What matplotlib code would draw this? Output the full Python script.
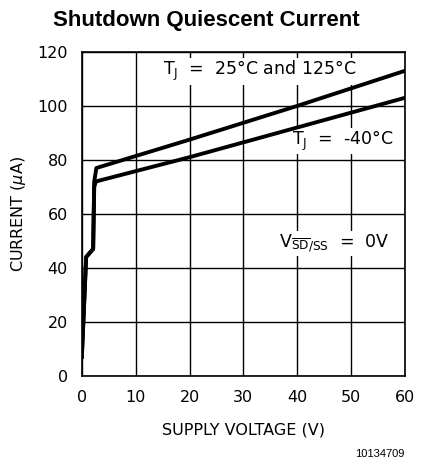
import matplotlib.pyplot as plt
import numpy as np

# supply voltage (V) and quiescent current (uA)
v_hot = [0.0, 0.8, 2.1, 2.3, 2.7, 20, 40, 60]
i_hot = [7, 44, 47, 72, 77, 87.5, 100, 113]
v_cold = [0.0, 0.8, 2.1, 2.3, 2.6, 20, 40, 60]
i_cold = [7, 44, 47, 70, 72, 81, 92, 103]

x_ticks = [0, 10, 20, 30, 40, 50, 60]
y_ticks = [0, 20, 40, 60, 80, 100, 120]

fig = plt.figure(figsize=(4.33, 4.68), dpi=100)
ax = fig.add_axes([0.189, 0.197, 0.746, 0.692])

ax.plot(v_hot, i_hot, color="black", lw=2.8, solid_joinstyle="round", zorder=4)
ax.plot(v_cold, i_cold, color="black", lw=2.8, solid_joinstyle="round", zorder=4)

ax.set_xlim(0, 60)
ax.set_ylim(0, 120)
ax.set_xticks(x_ticks)
ax.set_yticks(y_ticks)
ax.grid(True, color="black", lw=1.0)
ax.tick_params(length=0, labelsize=11.5, pad=10)
for s in ax.spines.values():
    s.set_linewidth(1.2)

ax.set_xlabel("SUPPLY VOLTAGE (V)", fontsize=11.5, labelpad=13)
ax.set_ylabel("CURRENT ($\\mu$A)", fontsize=11.5, labelpad=7)

# white boxes hide the grid behind the labels, curves stay on top
bg = dict(facecolor="white", edgecolor="none", pad=1)
ax.text(15, 112.8, "T$_\\mathregular{J}$  =  25°C and 125°C", fontsize=12.5, va="center", bbox=bg, zorder=3)
ax.text(39.0, 87, "T$_\\mathregular{J}$  =  -40°C", fontsize=12.5, va="center", bbox=bg, zorder=3)
ax.text(36.6, 49, "V$_{\\overline{\\mathregular{SD}}\\mathregular{/SS}}$  =  0V", fontsize=12.5, va="center", bbox=bg, zorder=3)

fig.text(0.476, 0.957, "Shutdown Quiescent Current", fontsize=16, fontweight="bold",
         family="Liberation Sans", ha="center", va="center")
fig.text(0.935, 0.03, "10134709", fontsize=8, family="Liberation Sans", ha="right", va="center")

fig.savefig("out.png", dpi=100)
